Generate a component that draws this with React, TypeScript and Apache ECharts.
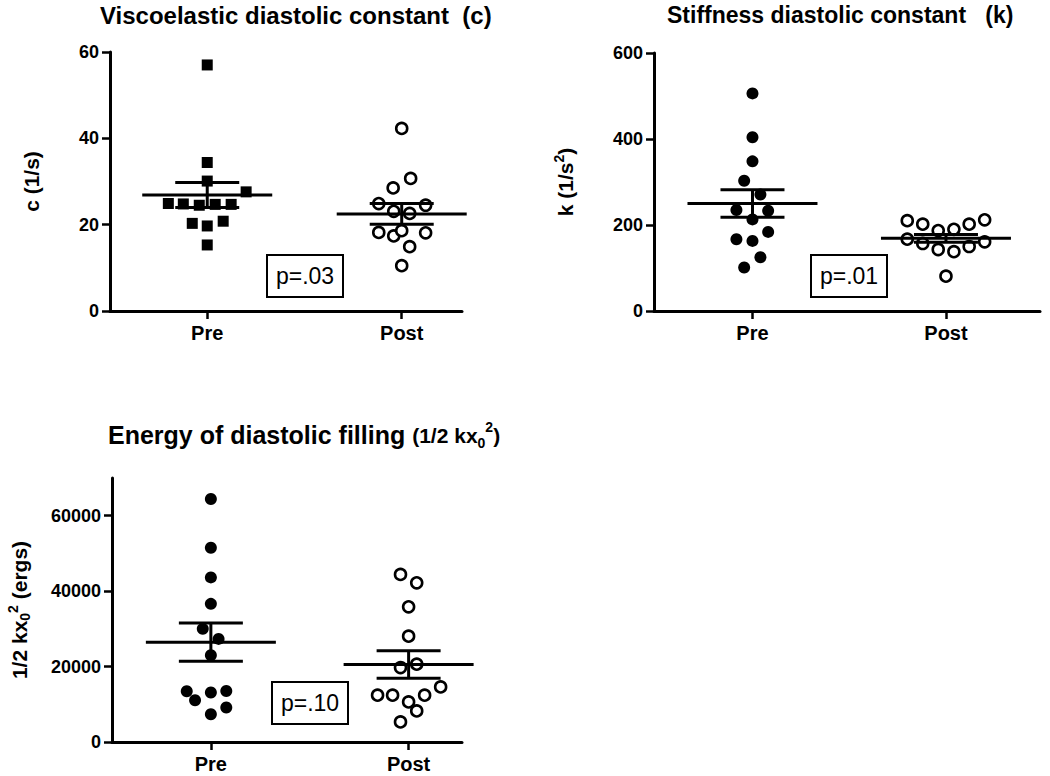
import React, { useEffect, useRef } from "react";
import * as echarts from "echarts";

// ---- data ----
const groups = ["Pre", "Post"];
const tickC = [0, 20, 40, 60];
const tickK = [0, 200, 400, 600];
const tickE = [0, 20000, 40000, 60000];

const preC = [57, 34.4, 30.1, 27.6, 24.9, 24.8, 24.5, 24.7, 24.7, 20.3, 19.7, 20.8, 15.3];
const preCx = [0, 0, 0, 0.2, -0.2, -0.123, -0.041, 0.041, 0.123, -0.077, 0, 0.082, 0];
const postC = [42.3, 30.7, 28.5, 24.9, 24.5, 23.1, 22.6, 18.2, 17.4, 18.6, 18.1, 14.9, 10.5];
const postCx = [0, 0.046, -0.044, -0.118, 0.123, -0.041, 0.041, -0.118, -0.041, 0, 0.123, 0.041, 0];

const preK = [506, 404, 348, 303, 271, 235, 233, 213, 184, 167, 163, 125, 101];
const preKx = [0, 0, 0, -0.043, 0.041, -0.083, 0.081, 0, 0.081, -0.083, 0, 0.041, -0.043];
const postK = [210, 202, 187, 190, 202, 212, 167, 157, 143, 138, 150, 161, 81];
const postKx = [-0.2, -0.12, -0.04, 0.041, 0.12, 0.2, -0.2, -0.12, -0.04, 0.041, 0.12, 0.2, 0];

const preE = [64430, 51500, 43640, 36630, 30000, 27340, 23020, 13460, 13110, 13540, 11070, 9130, 7350];
const preEx = [0, 0, 0, 0, -0.041, 0.039, 0, -0.122, 0, 0.078, -0.08, 0.078, 0];
const postE = [44440, 42210, 35840, 28060, 20630, 19750, 14600, 12400, 12400, 12400, 10620, 8230, 5310];
const postEx = [-0.041, 0.041, 0, 0, 0.041, -0.041, 0.162, 0.081, -0.157, -0.081, 0, 0.041, -0.041];

const meanC = [26.85, 22.5];
const semC = [2.9, 2.4];
const meanK = [250, 169];
const semK = [32, 9];
const meanE = [26470, 20540];
const semE = [5050, 3630];

const pValues = ["p=.03", "p=.01", "p=.10"];

const FONT = "Liberation Sans, Arial, sans-serif";

function pts(xs: number[], ys: number[], center: number) {
  return ys.map((v, i) => [center + xs[i], v]);
}

function statData(means: number[], sems: number[]) {
  return means.map((m, i) => [i + 1, m, sems[i]]);
}

const renderStats = (params: any, api: any) => {
  const x = api.value(0);
  const m = api.value(1);
  const s = api.value(2);
  const c = api.coord([x, m]);
  const t = api.coord([x, m + s]);
  const b = api.coord([x, m - s]);
  const st = { stroke: "#000", lineWidth: 3 };
  return {
    type: "group",
    children: [
      { type: "line", shape: { x1: c[0] - 65, y1: c[1], x2: c[0] + 65, y2: c[1] }, style: st },
      { type: "line", shape: { x1: t[0] - 32, y1: t[1], x2: t[0] + 32, y2: t[1] }, style: st },
      { type: "line", shape: { x1: b[0] - 32, y1: b[1], x2: b[0] + 32, y2: b[1] }, style: st },
      { type: "line", shape: { x1: t[0], y1: t[1], x2: b[0], y2: b[1] }, style: st },
    ],
  };
};

function richSet(big: number, main: number, small: number, lh: number) {
  const base = { fontWeight: "bold", fontFamily: FONT, color: "#000", lineHeight: lh };
  return {
    a: { ...base, fontSize: big },
    b: { ...base, fontSize: main },
    sub: { ...base, fontSize: small, verticalAlign: "bottom" },
    sup: { ...base, fontSize: small, verticalAlign: "top" },
  };
}

function xAxisOf(grid: number, min: number, max: number) {
  return {
    type: "value",
    gridIndex: grid,
    min,
    max,
    axisLine: { show: true, onZero: false, lineStyle: { color: "#000", width: 3 } },
    axisTick: { show: true, length: 8, customValues: [1, 2], lineStyle: { color: "#000", width: 2.5 } },
    axisLabel: {
      customValues: [1, 2],
      formatter: (v: number) => groups[Math.round(v) - 1],
      fontSize: 20,
      fontWeight: "bold",
      fontFamily: FONT,
      color: "#000",
      margin: 12,
    },
    splitLine: { show: false },
  };
}

function yAxisOf(grid: number, max: number, ticks: number[], name: string, gap: number, rich: any) {
  return {
    type: "value",
    gridIndex: grid,
    min: 0,
    max,
    name,
    nameLocation: "middle",
    nameRotate: 90,
    nameGap: gap,
    nameTextStyle: { rich },
    axisLine: { show: true, onZero: false, lineStyle: { color: "#000", width: 3 } },
    axisTick: { show: true, length: 8, customValues: ticks, lineStyle: { color: "#000", width: 2.5 } },
    axisLabel: {
      customValues: ticks,
      formatter: (v: number) => String(v),
      fontSize: 18,
      fontWeight: "bold",
      fontFamily: FONT,
      color: "#000",
      margin: 11,
    },
    splitLine: { show: false },
  };
}

function filled(grid: number, data: number[][], symbol: string, size: number) {
  return {
    type: "scatter",
    xAxisIndex: grid,
    yAxisIndex: grid,
    data,
    symbol,
    symbolSize: size,
    itemStyle: { color: "#000", opacity: 1 },
    z: 2,
  };
}

function hollow(grid: number, data: number[][]) {
  return {
    type: "scatter",
    xAxisIndex: grid,
    yAxisIndex: grid,
    data,
    symbol: "circle",
    symbolSize: 11,
    itemStyle: { color: "#fff", borderColor: "#000", borderWidth: 2.6, opacity: 1 },
    z: 2,
  };
}

function stats(grid: number, data: number[][]) {
  return {
    type: "custom",
    coordinateSystem: "cartesian2d",
    xAxisIndex: grid,
    yAxisIndex: grid,
    data,
    renderItem: renderStats,
    z: 3,
  };
}

function pBox(x: number, y: number, text: string) {
  return {
    type: "group",
    children: [
      { type: "rect", shape: { x, y, width: 76, height: 42 }, style: { fill: "#fff", stroke: "#000", lineWidth: 2 } },
      {
        type: "text",
        x: x + 38,
        y: y + 21,
        style: { text, fontSize: 23, fontFamily: FONT, fill: "#000", align: "center", verticalAlign: "middle" },
      },
    ],
  };
}

export default function App() {
  const ref = useRef<HTMLDivElement>(null);
  useEffect(() => {
    if (!ref.current) return;
    const chart = echarts.init(ref.current, null, { renderer: "svg" });
    const titleStyle = (size: number) => ({ fontSize: size, fontWeight: "bold", fontFamily: FONT, color: "#000" });
    const nameRich = richSet(21, 21, 14, 26);
    chart.setOption({
      animation: false,
      backgroundColor: "#fff",
      title: [
        { text: "Viscoelastic diastolic constant  (c)", left: 100, top: 3, padding: 0, textStyle: titleStyle(24) },
        { text: "Stiffness diastolic constant   (k)", left: 667, top: 3, padding: 0, textStyle: titleStyle(23) },
        {
          text: "{a|Energy of diastolic filling }{b|(1/2 kx}{sub|0}{sup|2}{b|)}",
          left: 108,
          top: 420,
          padding: 0,
          textStyle: { rich: richSet(25, 21, 14, 30) },
        },
      ],
      grid: [
        { left: 110, top: 52, width: 352, height: 259 },
        { left: 654, top: 53, width: 386, height: 258 },
        { left: 112, top: 478, width: 350, height: 264 },
      ],
      xAxis: [xAxisOf(0, 0.5, 2.31), xAxisOf(1, 0.491, 2.486), xAxisOf(2, 0.5, 2.27)],
      yAxis: [
        yAxisOf(0, 60, tickC, "{b|c (1/s)}", 66, nameRich),
        yAxisOf(1, 600, tickK, "{b|k (1/s}{sup|2}{b|)}", 76, nameRich),
        yAxisOf(2, 70000, tickE, "{b|1/2 kx}{sub|0}{sup|2}{b| (ergs)}", 80, nameRich),
      ],
      series: [
        filled(0, pts(preCx, preC, 1), "rect", 11),
        hollow(0, pts(postCx, postC, 2)),
        stats(0, statData(meanC, semC)),
        filled(1, pts(preKx, preK, 1), "circle", 12),
        hollow(1, pts(postKx, postK, 2)),
        stats(1, statData(meanK, semK)),
        filled(2, pts(preEx, preE, 1), "circle", 12),
        hollow(2, pts(postEx, postE, 2)),
        stats(2, statData(meanE, semE)),
      ],
      graphic: [pBox(267, 255, pValues[0]), pBox(811, 255, pValues[1]), pBox(272, 682, pValues[2])],
    });
    return () => chart.dispose();
  }, []);
  return (
    <div
      ref={ref}
      style={{ position: "absolute", left: 0, top: 0, width: 1050, height: 776, background: "#fff" }}
    />
  );
}
